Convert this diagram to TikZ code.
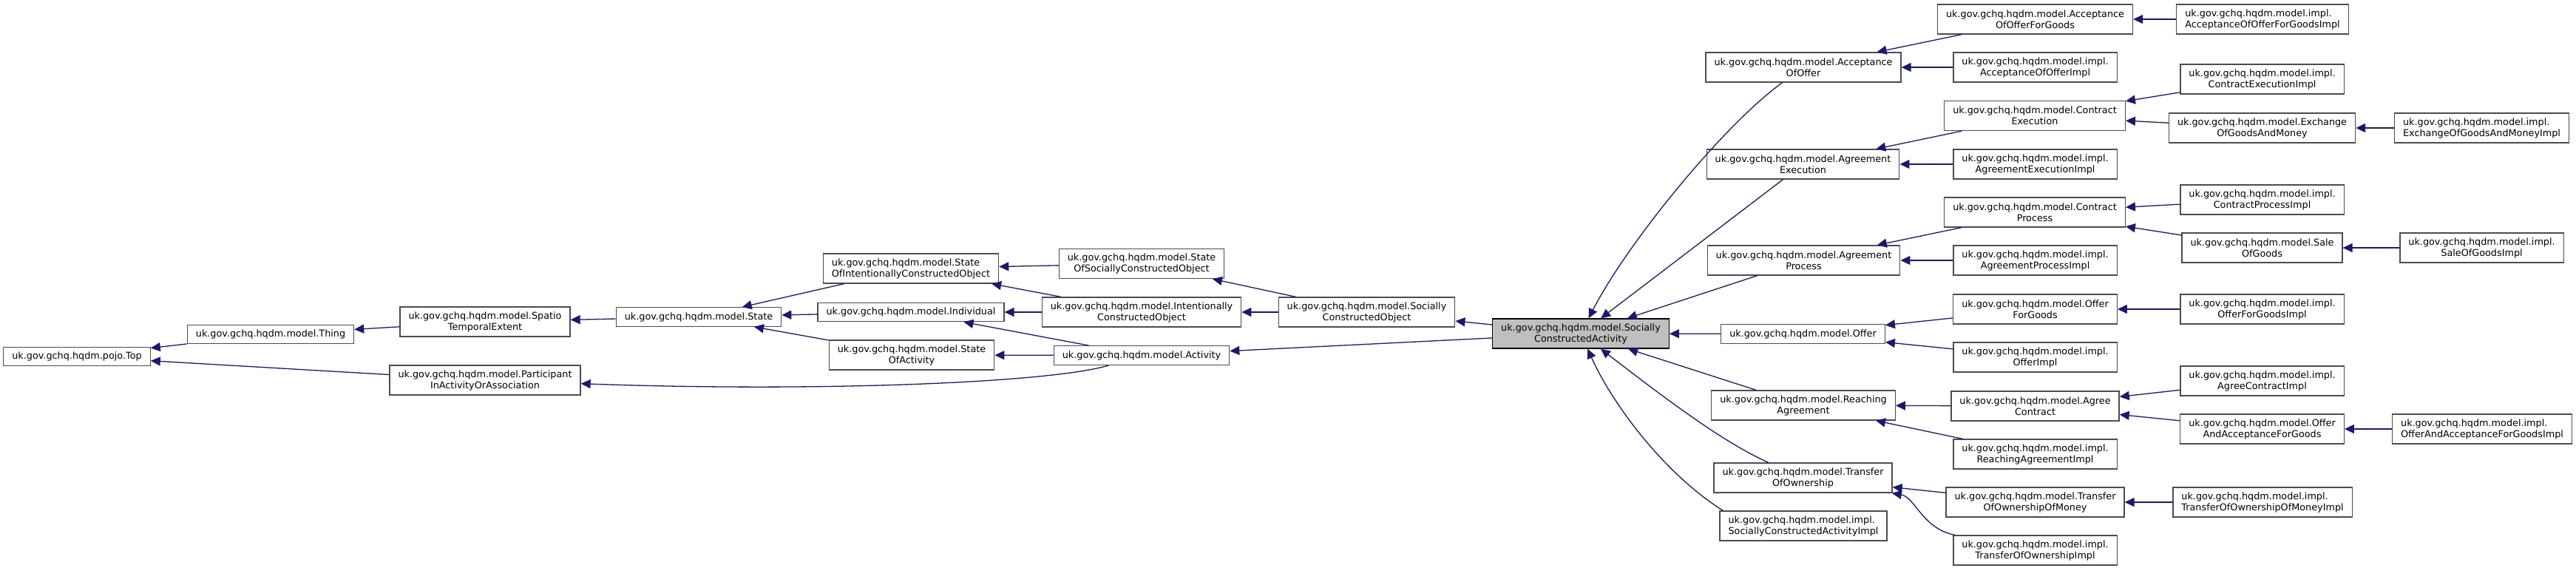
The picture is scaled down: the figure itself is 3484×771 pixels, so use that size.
\documentclass[tikz,border=0pt]{standalone}
\usepackage{fontspec}
\setmainfont{DejaVu Sans}
\usepackage{tikz}
\usepackage{xcolor}
\usetikzlibrary{arrows.meta}
\definecolor{edgeblue}{HTML}{191970}

\begin{document}
\begin{tikzpicture}[x=1pt,y=-1pt,
  classbox/.style={draw=black!70, fill=white, line width=1.3pt, inner xsep=11.5pt, inner ysep=2pt,
    minimum height=25.5pt, align=center, font=\fontsize{12.8}{15}\selectfont},
  tallbox/.style={classbox, minimum height=40pt},
  focusbox/.style={tallbox, draw=black, fill=black!25},
  inherit/.style={draw=edgeblue, line width=1.3pt, -{Triangle[length=13pt,width=12pt]}}]
\useasboundingbox (0,0) rectangle (3484,771);
% left part of the hierarchy
\node[classbox] (top) at (104,482) {uk.gov.gchq.hqdm.pojo.Top};
\node[classbox] (thing) at (366,452) {uk.gov.gchq.hqdm.model.Thing};
\node[tallbox] (spatio) at (656,435) {uk.gov.gchq.hqdm.model.Spatio\\TemporalExtent};
\node[tallbox] (part) at (656,514) {uk.gov.gchq.hqdm.model.Participant\\InActivityOrAssociation};
\node[classbox] (state) at (945,428.5) {uk.gov.gchq.hqdm.model.State};
\node[tallbox,align=left] (stateico) at (1232,363) {uk.gov.gchq.hqdm.model.State\\OfIntentionallyConstructedObject};
\node[classbox] (indiv) at (1232,422) {uk.gov.gchq.hqdm.model.Individual};
\node[tallbox] (stateact) at (1233,480) {uk.gov.gchq.hqdm.model.State\\OfActivity};
\node[tallbox] (statesco) at (1544,356.5) {uk.gov.gchq.hqdm.model.State\\OfSociallyConstructedObject};
\node[tallbox] (ico) at (1544,422) {uk.gov.gchq.hqdm.model.Intentionally\\ConstructedObject};
\node[classbox] (act) at (1544,480.5) {uk.gov.gchq.hqdm.model.Activity};
\node[tallbox] (sco) at (1848.5,422) {uk.gov.gchq.hqdm.model.Socially\\ConstructedObject};
\node[focusbox] (sca) at (2138,451) {uk.gov.gchq.hqdm.model.Socially\\ConstructedActivity};
% direct subclasses
\node[tallbox] (acc) at (2439,91) {uk.gov.gchq.hqdm.model.Acceptance\\OfOffer};
\node[tallbox] (agrexe) at (2438.5,222) {uk.gov.gchq.hqdm.model.Agreement\\Execution};
\node[tallbox] (agrproc) at (2439.5,352) {uk.gov.gchq.hqdm.model.Agreement\\Process};
\node[classbox] (offer) at (2438.5,451.5) {uk.gov.gchq.hqdm.model.Offer};
\node[tallbox] (reach) at (2439,548) {uk.gov.gchq.hqdm.model.Reaching\\Agreement};
\node[tallbox] (transfer) at (2438.5,646) {uk.gov.gchq.hqdm.model.Transfer\\OfOwnership};
\node[tallbox,align=left] (scaimpl) at (2439,711) {uk.gov.gchq.hqdm.model.impl.\\SociallyConstructedActivityImpl};
% third column
\node[tallbox] (accgoods) at (2752.5,26) {uk.gov.gchq.hqdm.model.Acceptance\\OfOfferForGoods};
\node[tallbox] (accimpl) at (2752.5,91) {uk.gov.gchq.hqdm.model.impl.\\AcceptanceOfOfferImpl};
\node[tallbox] (conexe) at (2752,156.5) {uk.gov.gchq.hqdm.model.Contract\\Execution};
\node[tallbox] (agrexeimpl) at (2752.5,222) {uk.gov.gchq.hqdm.model.impl.\\AgreementExecutionImpl};
\node[tallbox] (conproc) at (2752,287) {uk.gov.gchq.hqdm.model.Contract\\Process};
\node[tallbox] (agrprocimpl) at (2752.5,352) {uk.gov.gchq.hqdm.model.impl.\\AgreementProcessImpl};
\node[tallbox] (offergoods) at (2752.5,418) {uk.gov.gchq.hqdm.model.Offer\\ForGoods};
\node[tallbox] (offerimpl) at (2752.5,483) {uk.gov.gchq.hqdm.model.impl.\\OfferImpl};
\node[tallbox] (agree) at (2752.5,549) {uk.gov.gchq.hqdm.model.Agree\\Contract};
\node[tallbox] (reachimpl) at (2752.5,614) {uk.gov.gchq.hqdm.model.impl.\\ReachingAgreementImpl};
\node[tallbox] (transmoney) at (2752.5,679) {uk.gov.gchq.hqdm.model.Transfer\\OfOwnershipOfMoney};
\node[tallbox] (transimpl) at (2752.5,744) {uk.gov.gchq.hqdm.model.impl.\\TransferOfOwnershipImpl};
% fourth and fifth column
\node[tallbox,align=left] (accgoodsimpl) at (3060,26) {uk.gov.gchq.hqdm.model.impl.\\AcceptanceOfOfferForGoodsImpl};
\node[tallbox] (conexeimpl) at (3059.5,107) {uk.gov.gchq.hqdm.model.impl.\\ContractExecutionImpl};
\node[tallbox] (exchange) at (3059.5,173) {uk.gov.gchq.hqdm.model.Exchange\\OfGoodsAndMoney};
\node[tallbox] (conprocimpl) at (3059.5,270) {uk.gov.gchq.hqdm.model.impl.\\ContractProcessImpl};
\node[tallbox] (sale) at (3059.5,335) {uk.gov.gchq.hqdm.model.Sale\\OfGoods};
\node[tallbox] (offergoodsimpl) at (3059.5,418) {uk.gov.gchq.hqdm.model.impl.\\OfferForGoodsImpl};
\node[tallbox] (agreeimpl) at (3059.5,515) {uk.gov.gchq.hqdm.model.impl.\\AgreeContractImpl};
\node[tallbox] (offacc) at (3059.5,580) {uk.gov.gchq.hqdm.model.Offer\\AndAcceptanceForGoods};
\node[tallbox,align=left] (transmoneyimpl) at (3060,679) {uk.gov.gchq.hqdm.model.impl.\\TransferOfOwnershipOfMoneyImpl};
\node[tallbox,align=left] (exchangeimpl) at (3356.5,173) {uk.gov.gchq.hqdm.model.impl.\\ExchangeOfGoodsAndMoneyImpl};
\node[tallbox] (saleimpl) at (3356.5,335) {uk.gov.gchq.hqdm.model.impl.\\SaleOfGoodsImpl};
\node[tallbox,align=left] (offaccimpl) at (3357,580) {uk.gov.gchq.hqdm.model.impl.\\OfferAndAcceptanceForGoodsImpl};
% inheritance arrows, tip at the parent
\draw[inherit] (thing) -- (top);
\draw[inherit] (part) -- (top);
\draw[inherit] (spatio) -- (thing);
\draw[inherit] (state) -- (spatio);
\draw[inherit] (stateico) -- (state);
\draw[inherit] (indiv) -- (state);
\draw[inherit] (stateact) -- (state);
\draw[inherit] (statesco) -- (stateico);
\draw[inherit] (ico) -- (stateico);
\draw[inherit] (ico) -- (indiv);
\draw[inherit] (act) -- (indiv);
\draw[inherit] (act) -- (stateact);
\draw[inherit] (act) .. controls (1420,518) and (1100,530) .. (part);
\draw[inherit] (sco) -- (statesco);
\draw[inherit] (sco) -- (ico);
\draw[inherit] (sca) -- (sco);
\draw[inherit] (sca) -- (act);
\draw[inherit] (acc) .. controls (2330,170) and (2200,330) .. (sca);
\draw[inherit] (agrexe) -- (sca);
\draw[inherit] (agrproc) -- (sca);
\draw[inherit] (offer) -- (sca);
\draw[inherit] (reach) -- (sca);
\draw[inherit] (transfer) .. controls (2330,598) and (2250,537) .. (sca);
\draw[inherit] ([xshift=5pt]scaimpl.north west) .. controls (2250,640) and (2180,545) .. (sca);
\draw[inherit] (accgoods) -- (acc);
\draw[inherit] (accimpl) -- (acc);
\draw[inherit] (conexe) -- (agrexe);
\draw[inherit] (agrexeimpl) -- (agrexe);
\draw[inherit] (conproc) -- (agrproc);
\draw[inherit] (agrprocimpl) -- (agrproc);
\draw[inherit] (offergoods) -- (offer);
\draw[inherit] (offerimpl) -- (offer);
\draw[inherit] (agree) -- (reach);
\draw[inherit] (reachimpl) -- (reach);
\draw[inherit] (transmoney) -- (transfer);
\draw[inherit] (transimpl) .. controls (2600,715) and (2590,672) .. (transfer);
\draw[inherit] (accgoodsimpl) -- (accgoods);
\draw[inherit] (conexeimpl) -- (conexe);
\draw[inherit] (exchange) -- (conexe);
\draw[inherit] (exchangeimpl) -- (exchange);
\draw[inherit] (conprocimpl) -- (conproc);
\draw[inherit] (sale) -- (conproc);
\draw[inherit] (saleimpl) -- (sale);
\draw[inherit] (offergoodsimpl) -- (offergoods);
\draw[inherit] (agreeimpl) -- (agree);
\draw[inherit] (offacc) -- (agree);
\draw[inherit] (offaccimpl) -- (offacc);
\draw[inherit] (transmoneyimpl) -- (transmoney);
\end{tikzpicture}
\end{document}
